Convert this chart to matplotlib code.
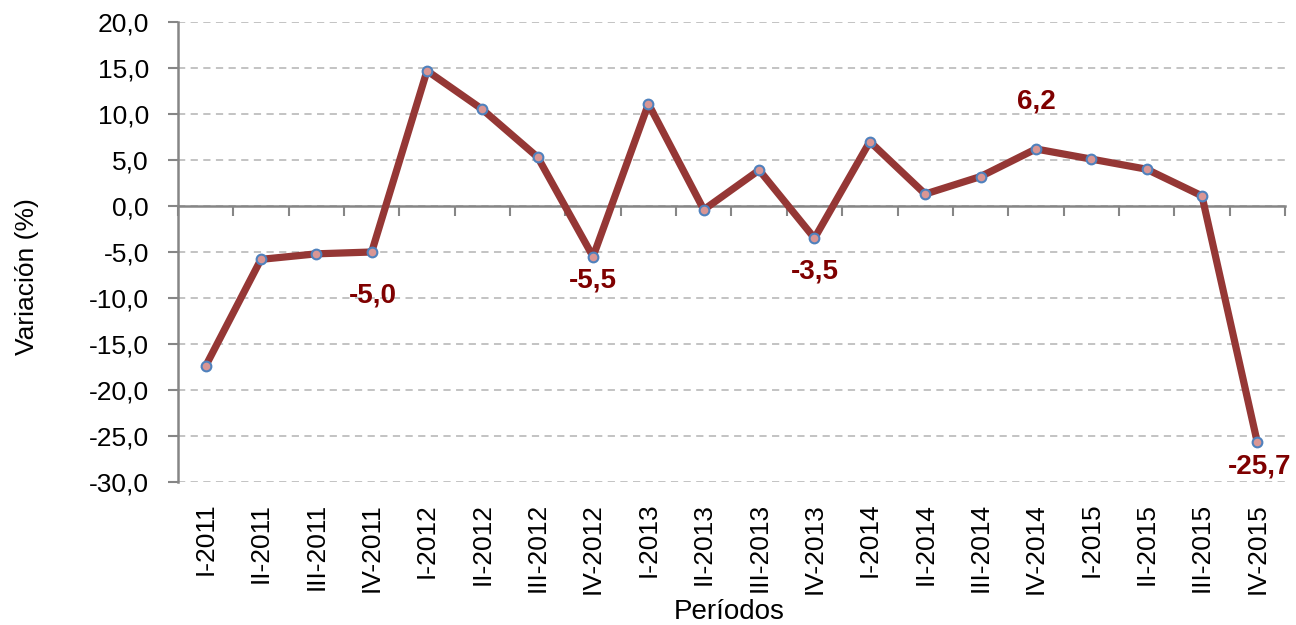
import matplotlib
matplotlib.use("Agg")
import matplotlib.pyplot as plt

plt.rcParams['font.family'] = ['Liberation Sans', 'DejaVu Sans']

periods = ["I-2011", "II-2011", "III-2011", "IV-2011",
           "I-2012", "II-2012", "III-2012", "IV-2012",
           "I-2013", "II-2013", "III-2013", "IV-2013",
           "I-2014", "II-2014", "III-2014", "IV-2014",
           "I-2015", "II-2015", "III-2015", "IV-2015"]
values = [-17.4, -5.8, -5.2, -5.0,
          14.7, 10.5, 5.3, -5.5,
          11.1, -0.4, 3.9, -3.5,
          7.0, 1.3, 3.2, 6.2,
          5.1, 4.0, 1.1, -25.7]
labelled = {3: "-5,0", 7: "-5,5", 11: "-3,5", 15: "6,2", 19: "-25,7"}
# label offsets in points (dx, dy) from the marker
label_off = {3: (1, -31), 7: (0, -17), 11: (0, -24), 15: (0, 34), 19: (2, -17)}
y_ticks = [20, 15, 10, 5, 0, -5, -10, -15, -20, -25, -30]

fig = plt.figure(figsize=(12.96, 6.25), dpi=100)
ax = fig.add_axes([0.1373, 0.2288, 0.8542, 0.736])

x = list(range(len(periods)))
ax.plot(x, values, color='#953735', linewidth=5.2, zorder=3)
ax.plot(x, values, linestyle='none', marker='o', markersize=7,
        markerfacecolor='#D99694', markeredgecolor='#4F81BD', markeredgewidth=1.5, zorder=4)

ax.set_xlim(-0.5, len(periods) - 0.5)
ax.set_ylim(-30, 20)
ax.set_yticks(y_ticks)
ax.set_yticklabels([f"{v:.1f}".replace('.', ',') for v in y_ticks], fontsize=19)
ax.yaxis.grid(True, linestyle=(0, (4, 3)), color='#BEBEBE', linewidth=1.3)
ax.set_axisbelow(True)

for side in ['top', 'right']:
    ax.spines[side].set_visible(False)
ax.spines['left'].set_color('#868686')
ax.spines['left'].set_linewidth(1.8)
ax.spines['bottom'].set_position(('data', 0))
ax.spines['bottom'].set_color('#868686')
ax.spines['bottom'].set_linewidth(1.8)
ax.tick_params(axis='y', length=7, width=1.5, color='#868686', direction='out', pad=14)
ax.set_xticks([i - 0.5 for i in range(len(periods) + 1)])
ax.set_xticklabels([])
ax.tick_params(axis='x', length=7, width=1.5, color='#868686', direction='out')

sec = ax.secondary_xaxis(0)
sec.set_xticks(x)
sec.set_xticklabels(periods, rotation=90, fontsize=19)
sec.tick_params(length=0, pad=15)
sec.spines['bottom'].set_visible(False)

for i, txt in labelled.items():
    dx, dy = label_off[i]
    ax.annotate(txt, (i, values[i]), xytext=(dx, dy), textcoords='offset points',
                ha='center', va='center', fontsize=20, fontweight='bold', color='#7F0000')

ax.set_ylabel("Variación (%)", fontsize=19, va='center')
ax.yaxis.set_label_coords(-0.136, 0.446)
fig.text(0.563, 0.021, "Períodos", ha='center', va='center', fontsize=20)

fig.savefig("out.png", dpi=100)
